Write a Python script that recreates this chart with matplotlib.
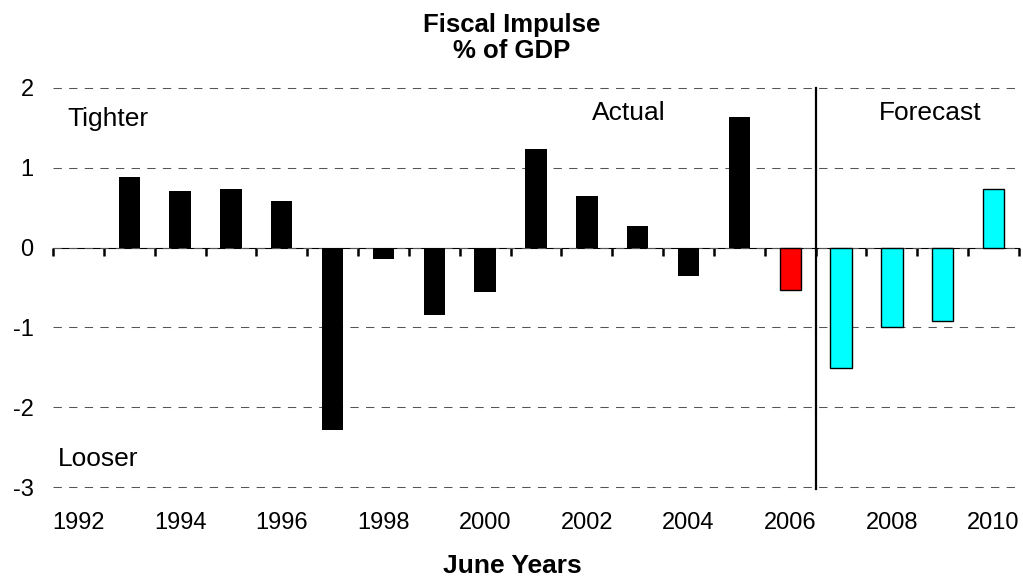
import matplotlib
matplotlib.use("Agg")
import matplotlib.pyplot as plt
from matplotlib.ticker import FixedLocator, NullFormatter

plt.rcParams['font.family'] = ['Liberation Sans', 'DejaVu Sans']

years = list(range(1992, 2011))
values = [None, 0.89, 0.71, 0.74, 0.58, -2.28, -0.14, -0.85, -0.56, 1.23,
          0.65, 0.27, -0.35, 1.64, -0.53, -1.51, -1.00, -0.92, 0.74]
kinds = ['none'] + ['actual'] * 13 + ['estimate'] + ['forecast'] * 4
colors = {'actual': '#000000', 'estimate': '#FF0000', 'forecast': '#00FFFF', 'none': 'none'}
yticks = [-3, -2, -1, 0, 1, 2]
xtick_years = list(range(1992, 2011, 2))
title = "Fiscal Impulse\n% of GDP"
xlabel = "June Years"

W, H = 1023, 578
fig = plt.figure(figsize=(W / 100, H / 100), dpi=100)
ax = fig.add_axes([53 / W, 1 - 489 / H, (1019 - 53) / W, (489 - 86) / H])

idx = list(range(len(years)))
for i, v, k in zip(idx, values, kinds):
    if v is None:
        continue
    lw = 0 if k == 'actual' else 1.0
    ax.bar(i, v, width=0.42, color=colors[k], edgecolor='#000000', linewidth=lw, zorder=3)

ax.set_xlim(-0.5, len(years) - 0.5)
ax.set_ylim(-3.025, 2.025)

ax.set_yticks(yticks)
ax.set_yticklabels([str(t) for t in yticks])
ax.yaxis.grid(True, color='#555555', linewidth=0.75, linestyle=(0, (8, 7)), zorder=1)
ax.set_axisbelow(True)

ax.set_xticks([years.index(y) for y in xtick_years])
ax.set_xticklabels([str(y) for y in xtick_years])
ax.tick_params(axis='x', length=0, pad=16.5, labelsize=17)
ax.tick_params(axis='y', length=0, pad=14, labelsize=17)

for s in ax.spines.values():
    s.set_visible(False)

# zero line with category-boundary ticks pointing up
ylo, yhi = ax.get_ylim()
zero_frac = (0 - ylo) / (yhi - ylo)
sec = ax.secondary_xaxis(zero_frac)
sec.xaxis.set_major_locator(FixedLocator([i - 0.5 for i in range(len(years) + 1)]))
sec.xaxis.set_major_formatter(NullFormatter())
sec.tick_params(direction='in', length=6, width=1.8, color='black')
sec.spines['bottom'].set_linewidth(2)
sec.spines['bottom'].set_color('black')

# divider between actual and forecast
div_x = kinds.index('forecast') - 0.5
ax.axvline(div_x, ymin=0.0, ymax=0.995, color='black', linewidth=1.6, clip_on=False, zorder=4)

fig.text(67 / W, 1 - 119 / H, "Tighter", fontsize=19, va='center', ha='left')
fig.text(58 / W, 1 - 459 / H, "Looser", fontsize=19, va='center', ha='left')
fig.text(629 / W, 1 - 113 / H, "Actual", fontsize=19, va='center', ha='center')
fig.text(930 / W, 1 - 113 / H, "Forecast", fontsize=19, va='center', ha='center')

fig.text(512 / W, 1 - 38 / H, title, fontsize=18.5, fontweight='bold', ha='center', va='center',
         linespacing=1.15)
fig.text(512 / W, 1 - 566 / H, xlabel, fontsize=19, fontweight='bold', ha='center', va='center')

fig.savefig("out.png", dpi=100, facecolor='white')
